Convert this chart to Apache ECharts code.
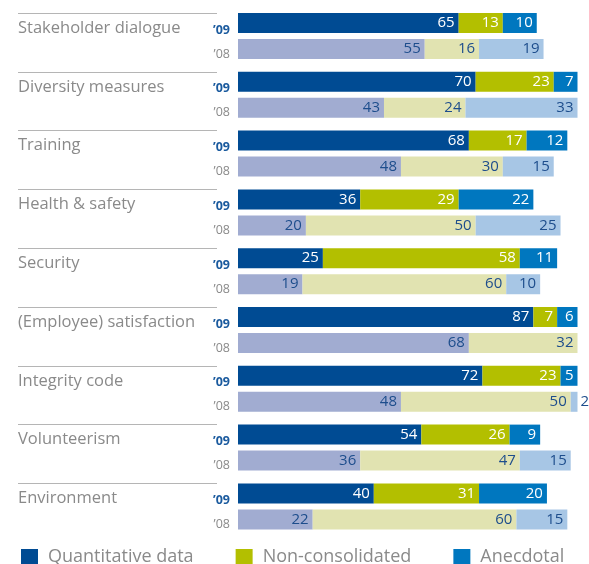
<!DOCTYPE html>
<html><head><meta charset="utf-8">
<script src="https://cdn.jsdelivr.net/npm/echarts@6/dist/echarts.min.js"></script>
<style>html,body{margin:0;padding:0;background:#fff}#c{width:589px;height:564px}</style>
</head><body><div id="c"></div>
<script>
const categories = ['Stakeholder dialogue','Diversity measures','Training','Health & safety','Security','(Employee) satisfaction','Integrity code','Volunteerism','Environment'];
const yearLabels = ['\u201909','\u201908'];
const legendNames = ['Quantitative data','Non-consolidated','Anecdotal'];
const quant09 = [65,70,68,36,25,87,72,54,40];
const non09   = [13,23,17,29,58,7,23,26,31];
const anec09  = [10,7,12,22,11,6,5,9,20];
const quant08 = [55,43,48,20,19,68,48,36,22];
const non08   = [16,24,30,50,60,32,50,47,60];
const anec08  = [19,33,15,25,10,0,2,15,15];

const FONT = 'Open Sans';
const C09 = ['#004b93','#b3bf00','#0077bf'];
const C08 = ['#a1acd1','#e1e3b1','#a7c6e5'];
const LBL08 = '#1d4d8c';

function items(arr) {
  return arr.map(v => {
    if (v === 0) return {value: v, label: {show: false}};
    if (v < 4) return {value: v, label: {position: 'right', color: LBL08, distance: 3}};
    return v;
  });
}
function mk(name, stack, arr, color, labelColor) {
  return {
    name: name, type: 'bar', stack: stack, xAxisIndex: 0, yAxisIndex: 0,
    barWidth: 20, barGap: '30%',
    itemStyle: {color: color},
    label: {show: true, position: 'insideRight', distance: 4, color: labelColor,
            fontFamily: FONT, fontSize: 15},
    data: items(arr)
  };
}
const N = categories.length;
const bandH = 58.8;
const lineColors = categories.map(() => '#b5b5b5').concat(['rgba(0,0,0,0)']);

const chart = echarts.init(document.getElementById('c'), null, {renderer: 'canvas'});
chart.setOption({
  animation: false,
  backgroundColor: '#fff',
  grid: [
    {left: 238, top: 6.6, width: 339.5, height: bandH * N, containLabel: false},
    {left: 18, top: 13, width: 199, height: bandH * N, containLabel: false}
  ],
  xAxis: [
    {gridIndex: 0, type: 'value', min: 0, max: 100, show: false},
    {gridIndex: 1, type: 'value', min: 0, max: 1, show: false}
  ],
  yAxis: [
    {gridIndex: 0, type: 'category', data: categories, inverse: true,
     axisLine: {show: false}, axisTick: {show: false}, splitLine: {show: false},
     axisLabel: {align: 'left', verticalAlign: 'bottom', lineHeight: 16, margin: 220,
                 color: '#8a8a8a', fontFamily: FONT, fontSize: 16.5}},
    {gridIndex: 0, type: 'category', data: categories, inverse: true, position: 'left',
     axisLine: {show: false}, axisTick: {show: false}, splitLine: {show: false},
     axisLabel: {align: 'right', margin: 8, padding: [12, 0, 0, 0],
                 formatter: () => '{a|' + yearLabels[0] + '}\n{b|' + yearLabels[1] + '}',
                 rich: {
                   a: {color: '#1a5a9e', fontWeight: 'bold', fontFamily: FONT, fontSize: 12.5, lineHeight: 24},
                   b: {color: '#8a8a8a', fontFamily: FONT, fontSize: 12.5, lineHeight: 24}
                 }}},
    {gridIndex: 1, type: 'category', data: categories, inverse: true,
     axisLine: {show: false}, axisTick: {show: false}, axisLabel: {show: false},
     splitLine: {show: true, lineStyle: {color: lineColors, width: 1}}}
  ],
  legend: {
    left: 16, top: 543, itemWidth: 17, itemHeight: 16, itemGap: 42, icon: 'rect',
    data: legendNames,
    textStyle: {color: '#8a8a8a', fontFamily: FONT, fontSize: 18, padding: [0, 0, 0, 5]}
  },
  series: [
    mk(legendNames[0], 'y09', quant09, C09[0], '#fff'),
    mk(legendNames[1], 'y09', non09, C09[1], '#fff'),
    mk(legendNames[2], 'y09', anec09, C09[2], '#fff'),
    mk(legendNames[0] + ' 2008', 'y08', quant08, C08[0], LBL08),
    mk(legendNames[1] + ' 2008', 'y08', non08, C08[1], LBL08),
    mk(legendNames[2] + ' 2008', 'y08', anec08, C08[2], LBL08)
  ]
});
</script></body></html>
